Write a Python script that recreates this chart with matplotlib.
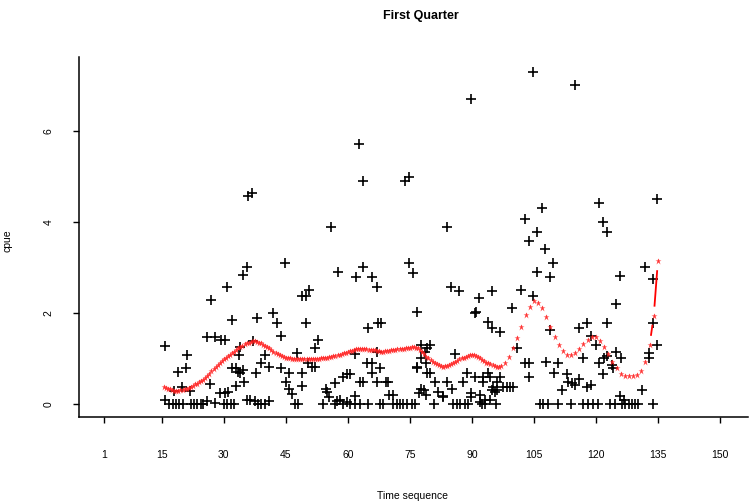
import numpy as np
import matplotlib
matplotlib.use("Agg")
import matplotlib.pyplot as plt

plt.rcParams['font.family'] = ['Liberation Sans', 'DejaVu Sans']

pts_a = [(15.8, 1.28), (15.8, 0.09), (17.9, 0.28), (19.0, 0.71), (19.9, 0.38), (20.8, 0.80),
         (21.0, 1.08), (21.8, 0.29), (26.0, 0.07), (27.9, 0.02), (26.8, 2.29), (30.8, 2.58),
         (31.9, 1.85), (25.8, 1.48), (27.9, 1.48), (29.2, 1.41), (30.3, 1.41), (26.6, 0.45),
         (29.1, 0.24), (30.3, 0.24), (31.1, 0.27), (31.9, 0.78), (32.9, 0.78), (33.5, 0.71),
         (33.9, 1.25), (33.7, 1.08), (32.9, 0.40), (34.9, 0.49), (35.5, 0.09), (34.7, 2.84),
         (35.7, 3.00), (35.8, 4.58), (36.9, 4.64), (34.7, 0.75), (33.9, 0.69)]
pts_b = [(44.9, 3.09), (37.9, 1.88), (41.8, 1.99), (42.9, 1.79), (43.8, 1.49), (48.8, 2.37),
         (49.8, 2.37), (50.7, 2.51), (49.8, 1.79), (47.8, 1.11), (52.8, 1.41), (52.0, 1.22),
         (37.0, 1.39), (39.9, 1.08), (37.8, 0.69), (38.9, 0.89), (41.0, 0.81), (43.8, 0.80),
         (45.8, 0.69), (48.8, 0.69), (50.4, 0.89), (51.2, 0.82), (52.0, 0.81), (45.0, 0.49),
         (45.8, 0.34), (46.6, 0.22), (48.8, 0.40), (36.2, 0.09), (37.5, 0.07), (41.0, 0.07),
         (55.0, 0.27), (55.5, 0.16), (56.9, 0.47), (57.3, 0.07), (57.7, 2.89), (55.8, 3.90)]
pts_c = [(62.8, 5.71), (63.7, 4.89), (73.8, 4.91), (74.9, 4.98), (89.8, 6.70), (83.9, 3.90),
         (61.9, 2.80), (63.7, 3.00), (65.8, 2.80), (67.0, 2.58), (74.9, 3.09), (75.8, 2.87),
         (76.8, 2.03), (84.9, 2.58), (86.9, 2.49), (91.8, 2.34), (90.8, 1.99), (90.9, 2.02),
         (94.8, 2.49), (99.8, 2.10), (94.0, 1.81), (94.8, 1.66), (96.8, 1.59), (100.8, 1.22),
         (67.3, 1.79), (68.0, 1.79), (64.9, 1.66), (77.8, 1.30), (79.9, 1.30), (78.7, 1.15),
         (85.8, 1.10), (61.7, 1.10), (67.0, 1.15), (65.8, 0.91), (67.8, 0.78), (65.8, 0.69),
         (64.7, 0.89), (76.7, 0.78), (79.1, 0.69), (79.9, 0.69), (88.7, 0.69), (90.8, 0.59),
         (92.8, 0.49), (94.0, 0.69), (96.8, 0.59), (98.4, 0.38), (99.2, 0.38), (100.0, 0.38),
         (87.9, 0.49), (83.9, 0.49), (85.1, 0.32), (81.1, 0.49), (81.9, 0.27), (82.9, 0.18),
         (77.8, 0.32), (78.9, 0.20), (62.9, 0.49), (63.7, 0.49), (67.0, 0.49), (69.2, 0.49),
         (69.8, 0.49), (58.7, 0.59), (59.7, 0.67), (60.5, 0.67), (54.7, 0.32), (58.1, 0.09),
         (59.7, 0.05), (70.0, 0.20), (70.8, 0.20), (61.7, 0.18), (89.8, 0.16), (94.8, 0.31),
         (96.0, 0.31), (79.1, 1.22), (77.8, 1.00), (78.9, 0.89), (76.8, 0.81), (78.3, 0.31),
         (77.3, 0.24), (83.1, 0.16), (92.8, 0.60), (94.4, 0.60), (96.0, 0.49), (95.2, 0.38),
         (95.6, 0.27), (97.6, 0.38), (89.9, 0.24), (92.0, 0.20), (92.0, 0.05), (93.2, 0.09),
         (94.4, 0.09)]
pts_d = [(104.9, 7.30), (114.9, 7.00), (102.9, 4.06), (103.7, 3.59), (106.9, 4.30), (105.8, 3.79),
         (107.7, 3.40), (109.7, 3.09), (105.8, 2.89), (108.9, 2.80), (120.8, 4.41), (121.8, 3.99),
         (122.8, 3.79), (125.8, 2.82), (131.9, 3.00), (133.9, 2.74), (134.9, 4.50), (124.9, 2.19),
         (122.8, 1.79), (115.8, 1.68), (117.9, 1.79), (118.9, 1.49), (120.0, 1.30), (133.9, 1.79),
         (134.9, 1.30), (132.9, 1.13), (132.9, 1.00), (101.8, 2.50), (104.7, 2.37), (108.9, 1.63),
         (102.9, 0.89), (103.9, 0.89), (103.9, 0.59), (107.9, 0.93), (110.9, 0.89), (109.9, 0.69),
         (112.9, 0.67), (113.3, 0.49), (114.1, 0.47), (114.9, 0.42), (111.9, 0.31), (115.8, 0.54),
         (117.0, 1.00), (117.9, 0.38), (118.9, 0.42), (120.8, 0.91), (122.0, 1.00), (123.8, 0.86),
         (126.0, 1.00), (124.9, 1.15), (121.8, 0.67), (124.1, 0.78), (125.9, 0.18), (126.8, 0.09),
         (131.1, 0.31), (122.6, 1.05)]
# times with zero catch
zero_times = [16.8, 17.6, 18.4, 19.2, 20.0, 22.0, 22.8, 23.6, 24.4, 25.0, 30.0, 30.8, 31.7, 32.5,
              38.3, 39.1, 39.9, 47.2, 48.0, 54.0, 56.9, 58.9, 60.5, 61.7, 62.9, 64.9, 67.8, 68.6,
              71.0, 71.8, 72.6, 73.4, 74.2, 75.4, 76.3, 80.8, 85.5, 86.3, 87.1, 88.3, 89.1, 92.4,
              93.2, 95.8, 106.5, 107.3, 108.5, 110.9, 113.9, 117.0, 118.2, 119.4, 120.6, 123.4,
              124.6, 126.3, 127.1, 127.9, 128.7, 129.5, 130.3, 133.9]

# smoothed cpue (red stars)
smooth_x_dense = np.arange(15.5, 97.0, 0.5)
smooth_y_dense = [0.38, 0.36, 0.34, 0.32, 0.30, 0.29, 0.29, 0.29, 0.30, 0.31, 0.32, 0.34, 0.36,
                  0.38, 0.40, 0.43, 0.45, 0.48, 0.50, 0.53, 0.57, 0.62, 0.67, 0.72, 0.77, 0.82,
                  0.86, 0.90, 0.94, 0.98, 1.01, 1.05, 1.08, 1.12, 1.15, 1.19, 1.22, 1.26, 1.28,
                  1.31, 1.33, 1.35, 1.37, 1.38, 1.38, 1.37, 1.35, 1.33, 1.30, 1.27, 1.25, 1.22,
                  1.18, 1.15, 1.12, 1.10, 1.07, 1.05, 1.03, 1.02, 1.01, 1.00, 0.99, 0.99, 0.99,
                  0.99, 0.99, 0.99, 0.99, 0.99, 0.99, 0.99, 0.99, 0.99, 0.99, 0.99, 1.00, 1.00,
                  1.01, 1.02, 1.03, 1.04, 1.05, 1.06, 1.07, 1.08, 1.10, 1.11, 1.13, 1.14, 1.16,
                  1.17, 1.19, 1.20, 1.21, 1.21, 1.21, 1.20, 1.20, 1.19, 1.19, 1.18, 1.18, 1.17,
                  1.16, 1.15, 1.15, 1.16, 1.16, 1.17, 1.18, 1.19, 1.19, 1.20, 1.20, 1.21, 1.21,
                  1.22, 1.23, 1.24, 1.25, 1.25, 1.24, 1.22, 1.18, 1.14, 1.09, 1.04, 1.00, 0.96,
                  0.92, 0.89, 0.87, 0.85, 0.83, 0.82, 0.83, 0.84, 0.86, 0.88, 0.90, 0.93, 0.95,
                  0.98, 1.00, 1.02, 1.04, 1.06, 1.07, 1.08, 1.07, 1.05, 1.03, 1.00, 0.97, 0.94,
                  0.91, 0.89, 0.87, 0.85, 0.83, 0.82, 0.82]
smooth_x_end = np.arange(97, 136)
smooth_y_end = [0.83, 0.89, 1.04, 1.22, 1.44, 1.70, 1.95, 2.14, 2.26, 2.23, 2.12, 1.92, 1.70,
                1.48, 1.30, 1.16, 1.08, 1.08, 1.11, 1.21, 1.32, 1.41, 1.48, 1.47, 1.38, 1.26,
                1.10, 0.92, 0.78, 0.67, 0.62, 0.62, 0.62, 0.64, 0.73, 0.92, 1.30, 1.94, 3.14]

xticks = [1, 15, 30, 45, 60, 75, 90, 105, 120, 135, 150]
yticks = [0, 2, 4, 6]

W, H = 753, 504
fig = plt.figure(figsize=(W / 100, H / 100), dpi=100)
ax = fig.add_axes([79 / W, 1 - 417 / H, 669 / W, 360 / H])

all_pts = pts_a + pts_b + pts_c + pts_d + [(t, 0.0) for t in zero_times]
px = [p[0] for p in all_pts]
py = [p[1] for p in all_pts]
ax.plot(px, py, ls='none', marker='+', ms=6.5, mew=1.2, color='black')

n = min(len(smooth_x_dense), len(smooth_y_dense))
sx = np.concatenate([smooth_x_dense[:n], smooth_x_end])
sy = np.concatenate([smooth_y_dense[:n], smooth_y_end])

ax.set_xlim(-5.05, 156.8)
ax.set_ylim(-0.286, 7.626)

# type="b" style: line pieces with gaps around each star
disp = ax.transData.transform(np.column_stack([sx, sy]))
inv = ax.transData.inverted()
gap = 10.0
for i in range(len(disp) - 1):
    p0, p1 = disp[i], disp[i + 1]
    d = p1 - p0
    L = np.hypot(d[0], d[1])
    if L > 2 * gap:
        a = inv.transform(p0 + d / L * gap)
        b = inv.transform(p1 - d / L * gap)
        ax.plot([a[0], b[0]], [a[1], b[1]], color='red', lw=1.3)

ax.plot(sx, sy, ls='none', marker='*', ms=4.7, color='#ff2020', mec='none', alpha=0.9)

ax.spines['top'].set_visible(False)
ax.spines['right'].set_visible(False)
ax.spines['left'].set_linewidth(1.1)
ax.spines['bottom'].set_linewidth(1.1)

ax.set_xticks(xticks)
ax.set_xticklabels([str(t) for t in xticks])
ax.set_yticks(yticks)
ax.set_yticklabels([str(t) for t in yticks])
ax.tick_params(axis='x', direction='out', length=4.5, width=1.0, pad=19, labelsize=7.5)
ax.tick_params(axis='y', direction='out', length=4.5, width=1.0, pad=14, labelsize=7.5,
               labelrotation=90)
for lab in ax.get_yticklabels():
    lab.set_va('center')

fig.text(421 / W, 1 - 16 / H, 'First Quarter', ha='center', va='center',
         fontsize=9, fontweight='bold')
fig.text(413 / W, 1 - 496 / H, 'Time sequence', ha='center', va='center', fontsize=7.5)
fig.text(8 / W, 1 - 241 / H, 'cpue', ha='center', va='center', rotation=90, fontsize=7.5)

fig.savefig('out.png', dpi=100)
